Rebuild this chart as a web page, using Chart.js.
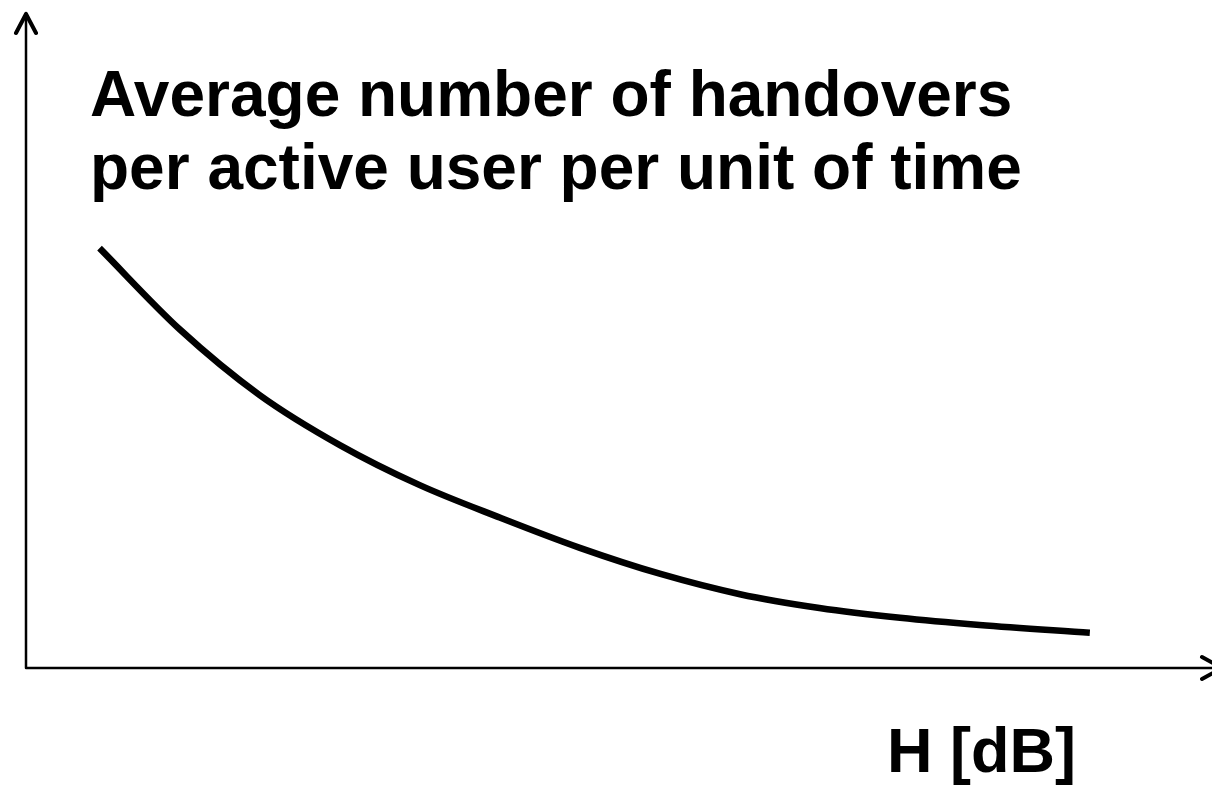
<!DOCTYPE html>
<html>
<head>
<meta charset="utf-8">
<script src="https://cdn.jsdelivr.net/npm/chart.js@4"></script>
<style>
  html, body { margin: 0; padding: 0; background: #fff; }
  #wrap { position: relative; width: 1212px; height: 785px; overflow: hidden; }
  #chart { position: absolute; left: 0; top: 0; }
  .label {
    position: absolute;
    font-family: "Liberation Sans", Arial, sans-serif;
    font-weight: bold;
    color: #000;
    white-space: nowrap;
  }
  #title { left: 90px; top: 58px; font-size: 64px; line-height: 73px; }
  #xlabel { left: 887px; top: 719px; font-size: 63px; line-height: 63px; }
</style>
</head>
<body>
<div id="wrap">
  <canvas id="chart" width="1212" height="785"></canvas>
  <div id="title" class="label">Average number of handovers<br>per active user per unit of time</div>
  <div id="xlabel" class="label">H [dB]</div>
</div>
<script>
// hysteresis H (arbitrary units, no ticks shown)
const hValues = [6.2, 13.0, 19.7, 26.5, 33.2, 40.0, 46.7, 53.5, 60.2, 66.9, 73.7, 80.4, 89.7];
// average handovers per active user per unit of time (arbitrary units)
const handovers = [64.3, 51.8, 41.8, 34.1, 28.0, 23.0, 18.4, 14.4, 11.3, 9.2, 7.7, 6.6, 5.4];

const axisRange = { xMin: 0, xMax: 100, yMin: 0, yMax: 100 };

// draws the two axes with open arrow heads
const arrowAxes = {
  id: "arrowAxes",
  afterDraw(chart) {
    const { ctx, chartArea } = chart;
    const left = chartArea.left, bottom = chartArea.bottom;
    ctx.save();
    ctx.strokeStyle = "#000";
    ctx.lineCap = "round";
    ctx.lineJoin = "round";

    ctx.lineWidth = 2.5;
    ctx.beginPath();
    ctx.moveTo(left, bottom);
    ctx.lineTo(left, chartArea.top - 2);
    ctx.moveTo(left, bottom);
    ctx.lineTo(chartArea.right + 8, bottom);
    ctx.stroke();

    ctx.lineWidth = 4;
    ctx.beginPath();
    ctx.moveTo(left - 10, chartArea.top + 18);
    ctx.lineTo(left, chartArea.top - 1);
    ctx.lineTo(left + 10, chartArea.top + 18);
    ctx.moveTo(chartArea.right - 10, bottom - 11);
    ctx.lineTo(chartArea.right + 10, bottom);
    ctx.lineTo(chartArea.right - 10, bottom + 11);
    ctx.stroke();
    ctx.restore();
  },
};

const ctx = document.getElementById("chart").getContext("2d");
new Chart(ctx, {
  type: "line",
  data: {
    datasets: [
      {
        label: "Handovers",
        data: hValues.map((h, i) => ({ x: h, y: handovers[i] })),
        borderColor: "#000",
        borderWidth: 6.5,
        pointRadius: 0,
        cubicInterpolationMode: "monotone",
        borderCapStyle: "butt",
        fill: false,
      },
    ],
  },
  options: {
    responsive: false,
    animation: false,
    layout: {
      padding: { left: 26, top: 15, right: 0, bottom: 117 },
    },
    plugins: {
      legend: { display: false },
      tooltip: { enabled: false },
    },
    scales: {
      x: {
        type: "linear",
        display: false,
        min: axisRange.xMin,
        max: axisRange.xMax,
      },
      y: {
        type: "linear",
        display: false,
        min: axisRange.yMin,
        max: axisRange.yMax,
      },
    },
  },
  plugins: [arrowAxes],
});
</script>
</body>
</html>
